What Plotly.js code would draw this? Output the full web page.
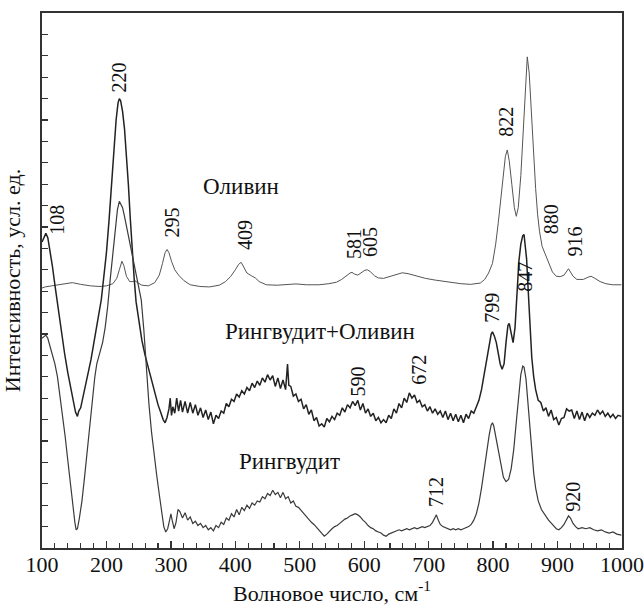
<!DOCTYPE html>
<html>
<head>
<meta charset="utf-8">
<script src="https://cdn.plot.ly/plotly-3.0.1.min.js"></script>
<style>html,body{margin:0;padding:0;background:#fff;}#chart{width:644px;height:611px;}</style>
</head>
<body>
<div id="chart"></div>
<script>
// Оливин: [wavenumber, intensity]
const olivine = [
[100,12.15],[105,12.2],[115,12.25],[125,12.3],[135,12.35],[147,12.4],[160,12.32],[175,12.25],[190,12.22],[200,12.25],
[210,12.35],[216,12.6],[220,13.0],[224,13.4],[227,13.2],[231,12.7],[236,12.45],[241,12.45],[244,12.5],[248,12.4],
[255,12.28],[265,12.25],[275,12.4],[282,12.75],[287,13.3],[291,13.8],[294,13.95],[297,13.8],[301,13.4],[306,13.0],
[312,12.75],[320,12.5],[330,12.3],[345,12.22],[360,12.2],[375,12.28],[385,12.45],[393,12.7],[400,13.0],[405,13.25],
[409,13.35],[413,13.1],[418,12.85],[425,12.72],[431,12.62],[437,12.45],[448,12.3],[465,12.28],[480,12.3],[494,12.34],
[510,12.3],[530,12.3],[545,12.35],[557,12.42],[565,12.55],[572,12.72],[578,12.85],[581,12.88],[585,12.8],[590,12.75],
[596,12.88],[601,12.98],[605,13.0],[610,12.9],[616,12.72],[622,12.62],[630,12.6],[640,12.7],[650,12.8],[659,12.86],
[668,12.82],[680,12.72],[695,12.6],[710,12.52],[730,12.42],[750,12.35],[765,12.32],[780,12.38],[787,12.55],[793,12.85],
[799,13.3],[804,14.2],[808,15.2],[812,16.3],[816,17.5],[819,18.3],[822,18.6],[825,18.1],[829,17.0],[833,15.9],
[836,15.5],[839,15.9],[843,17.4],[847,19.6],[850,21.6],[853,22.95],[856,22.2],[859,20.5],[862,18.9],[866,16.8],
[869,15.6],[872,14.8],[876,14.1],[881,13.75],[886,13.35],[892,12.9],[898,12.7],[904,12.68],[910,12.75],[914,12.95],
[917,13.05],[920,12.9],[924,12.7],[930,12.55],[940,12.55],[947,12.65],[952,12.7],[958,12.6],[966,12.45],[975,12.35],
[985,12.3],[999,12.3]
];
// Рингвудит+Оливин
const ringOlivine = [
[100,14.3],[103,14.55],[106,14.7],[109,14.5],[112,14.0],[116,13.2],[120,12.3],[125,11.2],[130,10.1],[135,9.1],
[140,8.2],[145,7.4],[149,6.8],[152,6.35],[155,6.15],[157,6.4],[160,6.55],[164,7.1],[168,7.6],[172,8.2],
[176,8.8],[180,9.5],[184,10.3],[188,10.9],[192,11.6],[196,12.6],[200,13.8],[204,15.3],[208,17.0],[212,18.8],
[215,20.0],[218,20.8],[220,21.0],[222,20.9],[225,20.4],[228,19.6],[231,18.5],[234,17.0],[237,15.4],[240,13.9],
[243,12.6],[246,11.5],[250,10.6],[255,9.7],[260,9.0],[265,8.4],[270,7.8],[275,7.2],[280,6.7],[284,6.35],
[288,6.0],[291,5.85],[294,6.1],[297,6.5],[299,7.0],[301,6.2],[303,6.6],[306,6.3],[309,7.0],[312,6.4],
[315,6.9],[318,6.35],[322,6.85],[326,6.3],[330,6.8],[334,6.3],[338,6.7],[342,6.2],[346,6.55],[350,6.1],
[354,6.45],[358,6.0],[362,6.35],[366,5.8],[370,6.2],[374,6.05],[378,6.4],[382,6.3],[386,6.75],[390,6.6],
[394,6.95],[398,6.85],[402,7.2],[406,7.05],[410,7.35],[414,7.2],[418,7.5],[422,7.35],[426,7.7],[430,7.5],
[434,7.8],[438,7.6],[442,7.95],[446,7.75],[450,8.1],[454,7.85],[458,8.05],[462,7.55],[466,7.95],[470,7.45],
[474,7.85],[478,7.4],[481,8.6],[483,7.6],[486,7.55],[490,7.1],[494,7.2],[498,6.85],[502,6.95],[506,6.5],
[510,6.7],[514,6.25],[518,6.45],[522,5.95],[526,6.1],[530,5.7],[534,5.8],[538,5.65],[542,6.05],[546,5.9],
[550,6.15],[554,6.0],[558,6.3],[562,6.2],[566,6.55],[570,6.35],[574,6.7],[578,6.55],[582,6.85],[586,6.65],
[590,6.9],[594,6.45],[598,6.75],[602,6.3],[606,6.5],[610,6.15],[614,6.3],[618,5.95],[622,6.1],[626,5.85],
[630,6.0],[634,5.85],[638,6.2],[642,6.05],[646,6.5],[650,6.3],[654,6.75],[658,6.55],[662,7.0],[666,6.8],
[670,7.25],[674,7.0],[678,7.15],[682,6.8],[686,6.9],[690,6.6],[694,6.7],[698,6.4],[702,6.6],[706,6.3],
[710,6.5],[714,6.25],[718,6.4],[722,6.1],[726,6.4],[730,6.0],[734,6.3],[738,5.95],[742,6.25],[746,5.9],
[750,6.2],[754,5.85],[758,6.25],[762,6.05],[766,6.4],[770,6.3],[774,6.65],[778,6.9],[782,7.4],[786,8.1],
[790,8.9],[794,9.6],[797,10.0],[799,10.1],[802,9.9],[805,9.6],[808,9.1],[811,8.6],[814,8.35],[817,8.6],
[820,9.6],[823,10.4],[825,10.5],[828,10.0],[831,9.6],[834,10.3],[837,12.0],[840,13.4],[843,14.2],[846,14.6],
[848,14.65],[850,14.2],[852,13.5],[854,12.3],[856,11.0],[858,9.8],[860,8.9],[863,8.0],[866,7.4],[870,6.9],
[874,6.8],[878,6.4],[882,6.55],[886,6.15],[890,6.45],[894,6.0],[898,6.1],[902,5.75],[906,6.05],[910,6.1],
[914,6.5],[918,6.4],[922,6.45],[926,6.05],[930,6.4],[934,6.0],[938,6.35],[942,5.95],[946,6.3],[950,6.1],
[954,6.3],[958,6.2],[962,6.45],[966,6.25],[970,6.4],[974,6.15],[978,6.3],[982,6.1],[986,6.25],[990,6.05],
[994,6.2],[999,6.15]
];
// Рингвудит
const ringwoodite = [
[100,9.8],[103,9.9],[106,9.95],[109,9.8],[112,9.5],[116,9.1],[120,8.6],[124,8.0],[128,7.1],[132,6.2],
[136,5.2],[140,4.1],[144,3.0],[148,1.9],[151,1.2],[153,0.85],[155,0.9],[158,1.4],[162,2.2],[166,3.3],
[170,4.5],[174,5.8],[178,7.0],[182,8.0],[185,8.6],[188,8.9],[191,9.2],[194,9.6],[198,10.3],[202,11.3],
[206,12.6],[210,13.9],[214,15.1],[217,15.8],[220,16.2],[222,16.1],[225,15.9],[228,15.5],[232,14.9],[236,14.3],
[240,13.7],[245,12.9],[250,12.2],[254,11.6],[258,10.2],[262,8.4],[266,6.7],[270,5.4],[274,4.3],[278,3.4],
[282,2.5],[286,1.6],[289,1.0],[292,0.75],[295,0.9],[298,1.3],[300,1.6],[302,1.3],[305,0.9],[308,1.2],
[311,1.8],[314,1.7],[318,1.4],[322,1.65],[326,1.3],[330,1.45],[334,1.15],[338,1.25],[342,1.05],[346,1.15],
[350,0.95],[354,1.05],[358,0.85],[362,0.95],[366,0.8],[370,1.05],[374,0.95],[378,1.2],[382,1.1],[386,1.4],
[390,1.3],[394,1.6],[398,1.45],[402,1.8],[406,1.55],[410,1.9],[414,1.75],[418,2.0],[422,1.85],[426,2.1],
[430,2.0],[434,2.2],[438,2.15],[442,2.4],[446,2.3],[450,2.55],[454,2.45],[458,2.7],[462,2.5],[466,2.6],
[470,2.35],[474,2.6],[478,2.3],[482,2.4],[486,2.1],[490,2.2],[494,1.95],[498,1.9],[502,1.75],[506,1.65],
[510,1.5],[514,1.35],[518,1.2],[522,1.1],[526,0.95],[530,0.8],[534,0.7],[538,0.55],[542,0.65],[546,0.8],
[550,0.9],[554,1.0],[558,1.05],[562,1.15],[566,1.25],[570,1.35],[574,1.4],[578,1.5],[582,1.55],[586,1.6],
[590,1.55],[594,1.45],[598,1.3],[602,1.2],[606,1.05],[610,0.95],[614,0.9],[618,0.8],[622,0.75],[626,0.7],
[630,0.6],[634,0.55],[638,0.65],[642,0.7],[646,0.75],[650,0.8],[654,0.85],[658,0.8],[662,0.85],[666,0.9],
[670,0.85],[674,0.9],[678,0.95],[682,0.9],[686,0.95],[690,1.0],[694,0.95],[698,1.0],[702,1.05],[706,1.2],
[709,1.4],[712,1.55],[715,1.3],[718,1.1],[722,1.0],[726,0.95],[730,0.9],[734,0.85],[738,0.9],[742,0.85],
[746,0.9],[750,0.85],[754,0.9],[758,0.95],[762,1.0],[766,1.1],[770,1.3],[774,1.6],[778,2.1],[782,2.8],
[786,3.7],[790,4.6],[794,5.3],[797,5.75],[799,5.85],[801,5.7],[804,5.2],[808,4.5],[812,3.8],[816,3.3],
[820,3.1],[824,3.2],[828,3.7],[832,4.6],[836,5.9],[840,7.3],[843,8.1],[846,8.5],[848,8.45],[851,7.9],
[854,6.8],[857,5.6],[860,4.4],[863,3.5],[866,2.8],[870,2.2],[875,1.8],[880,1.55],[886,1.3],[892,1.1],
[898,0.9],[902,0.85],[906,0.95],[910,1.1],[914,1.35],[917,1.5],[920,1.4],[924,1.15],[928,1.0],[932,0.9],
[938,0.95],[944,0.9],[950,0.95],[956,0.85],[962,0.8],[968,0.85],[974,0.75],[980,0.7],[986,0.75],[992,0.65],
[999,0.6]
];
// Peak labels: [text, wavenumber, intensity]
const peakLabels = [
["108",122.9,15.33],["220",219.8,21.99],["295",301.2,15.19],["409",415.1,14.63],["581",584.1,14.21],
["605",609.8,14.28],["822",819.7,19.91],["880",890.3,15.38],["916",926.7,14.31],["847",850.3,12.65],
["799",798.0,11.22],["590",590.3,7.78],["672",684.9,8.33],["712",711.2,2.61],["920",924.0,2.40]
];
// Curve names: [text, wavenumber, intensity]
const curveNames = [
["Оливин",409,16.88],["Рингвудит+Оливин",531.4,10.1],["Рингвудит",484.2,4.03]
];
const xTicks = [100,200,300,400,500,600,700,800,900,1000];

const serif = '"Liberation Serif", "Times New Roman", Times, serif';
function trace(data, color, width, name){
  return {x:data.map(d=>d[0]), y:data.map(d=>d[1]), type:'scatter', mode:'lines', name:name,
    line:{color:color, width:width}, hoverinfo:'skip'};
}
const traces = [
  trace(olivine, '#555555', 1.0, 'Оливин'),
  trace(ringOlivine, '#222222', 1.5, 'Рингвудит+Оливин'),
  trace(ringwoodite, '#3a3a3a', 1.2, 'Рингвудит')
];
const annotations = [];
peakLabels.forEach(p=>annotations.push({x:p[1], y:p[2], xref:'x', yref:'y', text:p[0], showarrow:false,
  textangle:-90, font:{family:serif, size:20, color:'#111'}}));
curveNames.forEach(p=>annotations.push({x:p[1], y:p[2], xref:'x', yref:'y', text:p[0], showarrow:false,
  font:{family:serif, size:23, color:'#111'}}));

const layout = {
  width:644, height:611,
  margin:{l:42, r:22, t:13, b:63, pad:0},
  paper_bgcolor:'#fff', plot_bgcolor:'#fff',
  showlegend:false,
  font:{family:serif},
  xaxis:{range:[100,1000], tickmode:'array', tickvals:xTicks, ticktext:xTicks.map(String),
    ticks:'inside', ticklen:7, tickwidth:1.3, tickcolor:'#333', ticklabelstandoff:-4,
    minor:{dtick:20, tick0:100, ticks:'inside', ticklen:5, tickwidth:1.2, tickcolor:'#333', showgrid:false},
    showline:true, mirror:true, linecolor:'#333', linewidth:1.8,
    showgrid:false, zeroline:false,
    tickfont:{family:serif, size:22, color:'#111'},
    title:{text:'Волновое число, см<sup>-1</sup>', font:{family:serif, size:22, color:'#111'}, standoff:9}},
  yaxis:{range:[0,25], tick0:0, dtick:1, ticks:'inside', ticklen:6, tickwidth:1.3, tickcolor:'#333',
    showticklabels:false, showline:true, mirror:true, linecolor:'#333', linewidth:1.8,
    showgrid:false, zeroline:false,
    title:{text:'Интенсивность, усл. ед.', font:{family:serif, size:22, color:'#111'}, standoff:18}},
  annotations:annotations
};
Plotly.newPlot('chart', traces, layout, {displayModeBar:false, staticPlot:true});
</script>
</body>
</html>
